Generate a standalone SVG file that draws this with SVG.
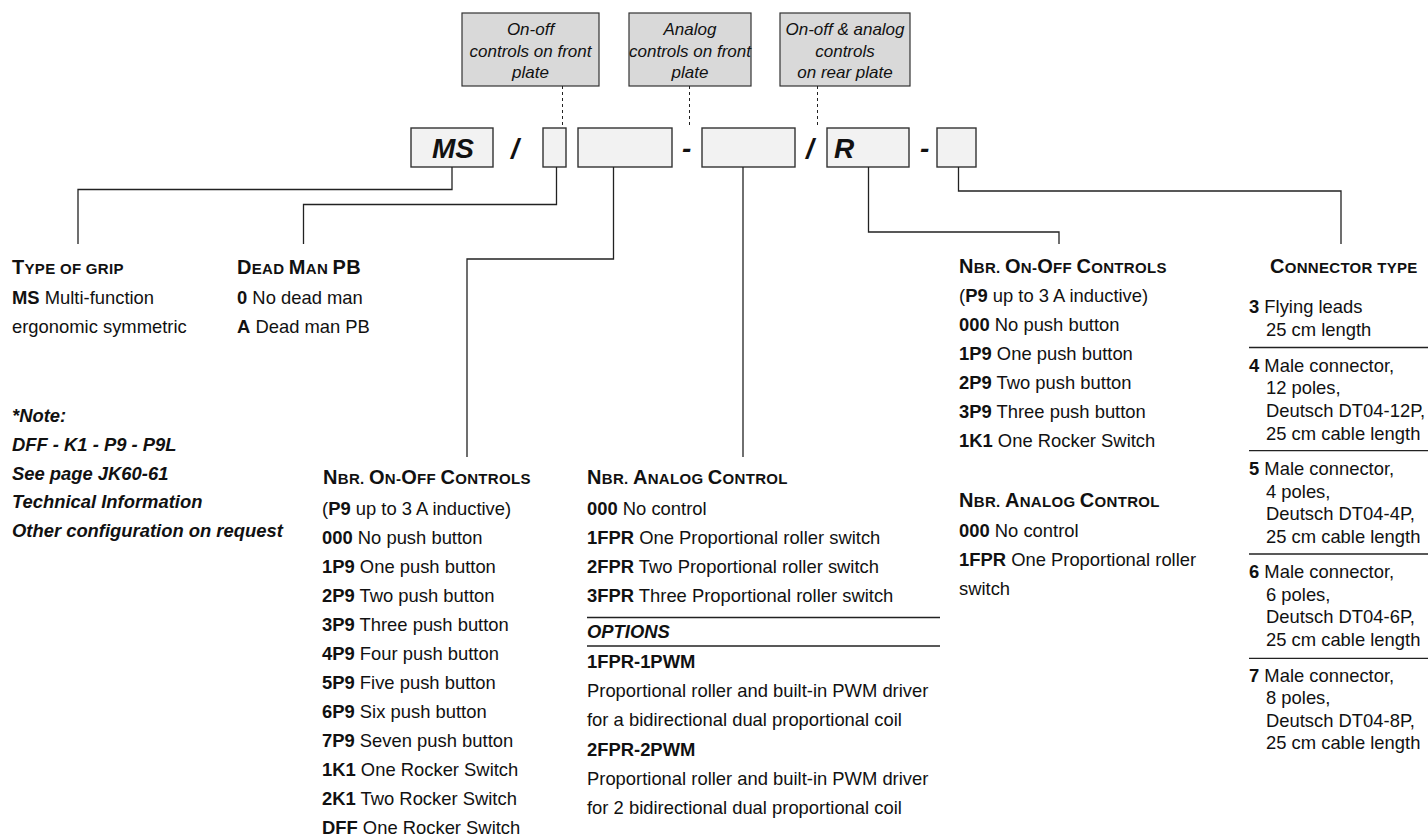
<svg xmlns="http://www.w3.org/2000/svg" width="1428" height="839" viewBox="0 0 1428 839">
<style>
text{font-family:"Liberation Sans",Arial,Helvetica,sans-serif;fill:#111;}
.t{font-size:18.4px;}
.b{font-weight:bold;}
.bi{font-weight:bold;font-style:italic;}
.h{font-size:15px;font-weight:bold;letter-spacing:0.3px;}
.L{font-size:20px;}
.cap{font-size:17px;font-style:italic;text-anchor:middle;}
.code{font-size:28px;font-weight:bold;font-style:italic;}
.gbox{fill:#d9d9d9;stroke:#333;stroke-width:1.2;}
.cbox{fill:#f2f2f2;stroke:#333;stroke-width:1.4;}
.ln{fill:none;stroke:#222;stroke-width:1.3;}
.dash{fill:none;stroke:#222;stroke-width:1;stroke-dasharray:3,3;}
.rule{stroke:#222;stroke-width:1.3;}
</style>
<rect width="1428" height="839" fill="#fff"/>

<g id="caption-onoff-front">
<rect class="gbox" x="462" y="13" width="137" height="73"/>
<text class="cap" x="530.5" y="35">On-off</text>
<text class="cap" x="530.5" y="56.5">controls on front</text>
<text class="cap" x="530.5" y="78">plate</text>
</g>
<g id="caption-analog-front">
<rect class="gbox" x="629" y="13" width="122" height="73"/>
<text class="cap" x="690" y="35">Analog</text>
<text class="cap" x="690" y="56.5">controls on front</text>
<text class="cap" x="690" y="78">plate</text>
</g>
<g id="caption-rear">
<rect class="gbox" x="780" y="13" width="130" height="73"/>
<text class="cap" x="845" y="35">On-off &amp; analog</text>
<text class="cap" x="845" y="56.5">controls</text>
<text class="cap" x="845" y="78">on rear plate</text>
</g>

<g id="code-row">
<rect class="cbox" x="411" y="128" width="82" height="39"/>
<text class="code" x="432" y="158">MS</text>
<text class="code" x="511" y="158">/</text>
<rect class="cbox" x="543" y="128" width="23" height="39"/>
<rect class="cbox" x="578" y="128" width="94" height="39"/>
<text class="code" x="682" y="158">-</text>
<rect class="cbox" x="702" y="128" width="93" height="39"/>
<text class="code" x="806" y="158">/</text>
<rect class="cbox" x="827" y="128" width="82" height="39"/>
<text class="code" x="834" y="158">R</text>
<text class="code" x="920" y="158">-</text>
<rect class="cbox" x="937" y="128" width="39" height="39"/>
</g>

<g id="connectors">
<line class="dash" x1="562.5" y1="86" x2="562.5" y2="128"/>
<line class="dash" x1="689.5" y1="86" x2="689.5" y2="128"/>
<line class="dash" x1="817.5" y1="86" x2="817.5" y2="128"/>
<polyline class="ln" points="452,167 452,189.5 78,189.5 78,244"/>
<polyline class="ln" points="556.5,167 556.5,204.5 303.5,204.5 303.5,244"/>
<polyline class="ln" points="613.5,167 613.5,259 467,259 467,457"/>
<polyline class="ln" points="743,167 743,457"/>
<polyline class="ln" points="868.5,167 868.5,232 1059,232 1059,244"/>
<polyline class="ln" points="958.5,167 958.5,191 1341,191 1341,244"/>
</g>

<g id="type-of-grip">
<text class="h" x="12" y="274"><tspan class="L">T</tspan>YPE OF GRIP</text>
<text class="t" x="12" y="304"><tspan class="b">MS</tspan> Multi-function</text>
<text class="t" x="12" y="333">ergonomic symmetric</text>
</g>

<g id="dead-man">
<text class="h" x="237" y="274"><tspan class="L">D</tspan>EAD <tspan class="L">M</tspan>AN <tspan class="L">PB</tspan></text>
<text class="t" x="237" y="304"><tspan class="b">0</tspan> No dead man</text>
<text class="t" x="237" y="333"><tspan class="b">A</tspan> Dead man PB</text>
</g>

<g id="note">
<text class="t bi" x="12" y="422">*Note:</text>
<text class="t bi" x="12" y="450.5">DFF - K1 - P9 - P9L</text>
<text class="t bi" x="12" y="479.5">See page JK60-61</text>
<text class="t bi" x="12" y="508">Technical Information</text>
<text class="t bi" x="12" y="537">Other configuration on request</text>
</g>

<g id="onoff-front">
<text class="h" x="323" y="484"><tspan class="L">N</tspan>BR. <tspan class="L">O</tspan>N-<tspan class="L">O</tspan>FF <tspan class="L">C</tspan>ONTROLS</text>
<text class="t" x="322" y="514.5">(<tspan class="b">P9</tspan> up to 3 A inductive)</text>
<text class="t" x="322" y="543.5"><tspan class="b">000</tspan> No push button</text>
<text class="t" x="322" y="572.5"><tspan class="b">1P9</tspan> One push button</text>
<text class="t" x="322" y="601.5"><tspan class="b">2P9</tspan> Two push button</text>
<text class="t" x="322" y="630.5"><tspan class="b">3P9</tspan> Three push button</text>
<text class="t" x="322" y="659.5"><tspan class="b">4P9</tspan> Four push button</text>
<text class="t" x="322" y="688.5"><tspan class="b">5P9</tspan> Five push button</text>
<text class="t" x="322" y="717.5"><tspan class="b">6P9</tspan> Six push button</text>
<text class="t" x="322" y="746.5"><tspan class="b">7P9</tspan> Seven push button</text>
<text class="t" x="322" y="775.5"><tspan class="b">1K1</tspan> One Rocker Switch</text>
<text class="t" x="322" y="804.5"><tspan class="b">2K1</tspan> Two Rocker Switch</text>
<text class="t" x="322" y="833.5"><tspan class="b">DFF</tspan> One Rocker Switch</text>
</g>

<g id="analog-front">
<text class="h" x="587" y="484"><tspan class="L">N</tspan>BR. <tspan class="L">A</tspan>NALOG <tspan class="L">C</tspan>ONTROL</text>
<text class="t" x="587" y="515"><tspan class="b">000</tspan> No control</text>
<text class="t" x="587" y="544"><tspan class="b">1FPR</tspan> One Proportional roller switch</text>
<text class="t" x="587" y="573"><tspan class="b">2FPR</tspan> Two Proportional roller switch</text>
<text class="t" x="587" y="602"><tspan class="b">3FPR</tspan> Three Proportional roller switch</text>
<line class="rule" x1="587" y1="617.5" x2="940" y2="617.5"/>
<text class="t bi" x="587" y="638">OPTIONS</text>
<line class="rule" x1="587" y1="646" x2="940" y2="646"/>
<text class="t b" x="587" y="668">1FPR-1PWM</text>
<text class="t" x="587" y="697">Proportional roller and built-in PWM driver</text>
<text class="t" x="587" y="726">for a bidirectional dual proportional coil</text>
<text class="t b" x="587" y="756">2FPR-2PWM</text>
<text class="t" x="587" y="785">Proportional roller and built-in PWM driver</text>
<text class="t" x="587" y="814">for 2 bidirectional dual proportional coil</text>
</g>

<g id="rear-plate">
<text class="h" x="959" y="273"><tspan class="L">N</tspan>BR. <tspan class="L">O</tspan>N-<tspan class="L">O</tspan>FF <tspan class="L">C</tspan>ONTROLS</text>
<text class="t" x="959" y="302">(<tspan class="b">P9</tspan> up to 3 A inductive)</text>
<text class="t" x="959" y="331"><tspan class="b">000</tspan> No push button</text>
<text class="t" x="959" y="360"><tspan class="b">1P9</tspan> One push button</text>
<text class="t" x="959" y="389"><tspan class="b">2P9</tspan> Two push button</text>
<text class="t" x="959" y="418"><tspan class="b">3P9</tspan> Three push button</text>
<text class="t" x="959" y="447"><tspan class="b">1K1</tspan> One Rocker Switch</text>
<text class="h" x="959" y="507"><tspan class="L">N</tspan>BR. <tspan class="L">A</tspan>NALOG <tspan class="L">C</tspan>ONTROL</text>
<text class="t" x="959" y="536.5"><tspan class="b">000</tspan> No control</text>
<text class="t" x="959" y="565.5"><tspan class="b">1FPR</tspan> One Proportional roller</text>
<text class="t" x="959" y="594.5">switch</text>
</g>

<g id="connector-type">
<text class="h" x="1270" y="273"><tspan class="L">C</tspan>ONNECTOR TYPE</text>
<text class="t" x="1249" y="313"><tspan class="b">3</tspan> Flying leads</text>
<text class="t" x="1266" y="336">25 cm length</text>
<line class="rule" x1="1249" y1="347.5" x2="1428" y2="347.5"/>
<text class="t" x="1249" y="371.5"><tspan class="b">4</tspan> Male connector,</text>
<text class="t" x="1266" y="394">12 poles,</text>
<text class="t" x="1266" y="416.7">Deutsch DT04-12P,</text>
<text class="t" x="1266" y="439.5">25 cm cable length</text>
<line class="rule" x1="1249" y1="450.7" x2="1428" y2="450.7"/>
<text class="t" x="1249" y="475"><tspan class="b">5</tspan> Male connector,</text>
<text class="t" x="1266" y="497.5">4 poles,</text>
<text class="t" x="1266" y="520">Deutsch DT04-4P,</text>
<text class="t" x="1266" y="542.7">25 cm cable length</text>
<line class="rule" x1="1249" y1="554" x2="1428" y2="554"/>
<text class="t" x="1249" y="578.3"><tspan class="b">6</tspan> Male connector,</text>
<text class="t" x="1266" y="600.8">6 poles,</text>
<text class="t" x="1266" y="623.3">Deutsch DT04-6P,</text>
<text class="t" x="1266" y="646">25 cm cable length</text>
<line class="rule" x1="1249" y1="658.3" x2="1428" y2="658.3"/>
<text class="t" x="1249" y="681.7"><tspan class="b">7</tspan> Male connector,</text>
<text class="t" x="1266" y="704.2">8 poles,</text>
<text class="t" x="1266" y="726.7">Deutsch DT04-8P,</text>
<text class="t" x="1266" y="749.4">25 cm cable length</text>
</g>
</svg>
